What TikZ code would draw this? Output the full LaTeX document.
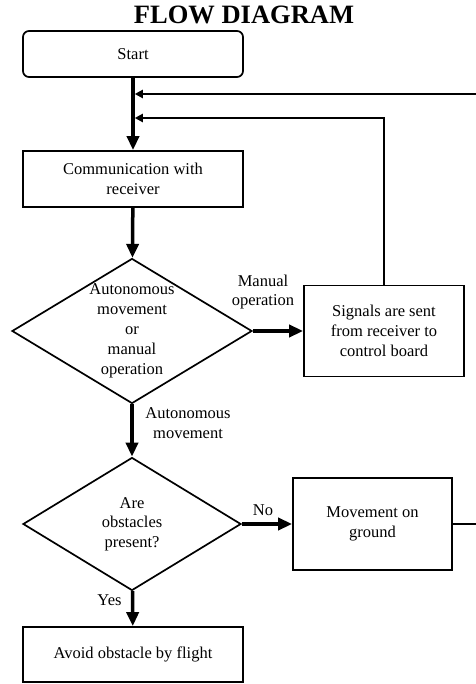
\documentclass[tikz,border=0pt]{standalone}
\usepackage{fontspec}
\setmainfont{Liberation Serif}
\usetikzlibrary{arrows.meta,shapes.geometric}

\begin{document}
\begin{tikzpicture}[x=1pt,y=-1pt,>=Triangle,
    every node/.style={font=\fontsize{16.5}{19.5}\selectfont},
    box/.style={draw,line width=1.7pt,align=center,inner sep=0pt},
    decision/.style={draw,diamond,line width=1.7pt,inner sep=0pt},
    main/.style={line width=3.5pt,-{Triangle[length=14pt,width=12pt]}},
    back/.style={line width=2pt,-{Triangle[length=8pt,width=8pt]},shorten >=1.75pt}]

    \useasboundingbox (0,0) rectangle (475,684);

    \node[font=\bfseries\fontsize{26.5}{30}\selectfont] (title) at (244,15) {FLOW DIAGRAM};

    % boxes
    \node[box,rounded corners=6pt,minimum width=220pt,minimum height=46pt] (start) at (133,54) {Start};
    \node[box,minimum width=220pt,minimum height=56pt] (comm) at (133,179) {Communication with\\receiver};
    \node[decision,minimum width=240pt,minimum height=145pt] (mode) at (132,331) {};
    \node[align=center,font=\fontsize{16.5}{20}\selectfont] (modetext) at (mode) {Autonomous\\movement\\or\\manual\\operation};
    \node[box,minimum width=160pt,minimum height=91pt,font=\fontsize{16.5}{20}\selectfont] (signals) at (384,331) {Signals are sent\\from receiver to\\control board};
    \node[decision,minimum width=218pt,minimum height=133pt] (obst) at (132,524) {};
    \node[align=center] (obsttext) at (obst) {Are\\obstacles\\present?};
    \node[box,minimum width=159pt,minimum height=92pt,font=\fontsize{16.5}{20}\selectfont] (move) at (372.5,524) {Movement on\\ground};
    \node[box,minimum width=220pt,minimum height=55pt] (avoid) at (133,654.5) {Avoid obstacle by flight};

    % labels
    \node[align=center] (manual) at (263,292) {Manual\\operation};
    \node[align=center] (auto) at (188,423) {Autonomous\\movement};
    \node (no) at (263,510) {No};
    \node (yes) at (109.5,600) {Yes};

    % joins and loop ends
    \coordinate (joinA) at (133,94);
    \coordinate (joinB) at (133,118);
    \coordinate (edge) at (477,0);

    % arrows
    \draw[main] (start) -- (comm);
    \draw[main] (comm) -- (mode);
    \draw[main] (mode.east) -- (signals.west);
    \draw[main] (mode) -- (obst);
    \draw[main] (obst.east) -- (move.west);
    \draw[main] (obst) -- (avoid);

    \draw[back] (signals.north) |- (joinB);
    \draw[back] (move.east) -- (move.east -| edge) |- (joinA);

\end{tikzpicture}
\end{document}
